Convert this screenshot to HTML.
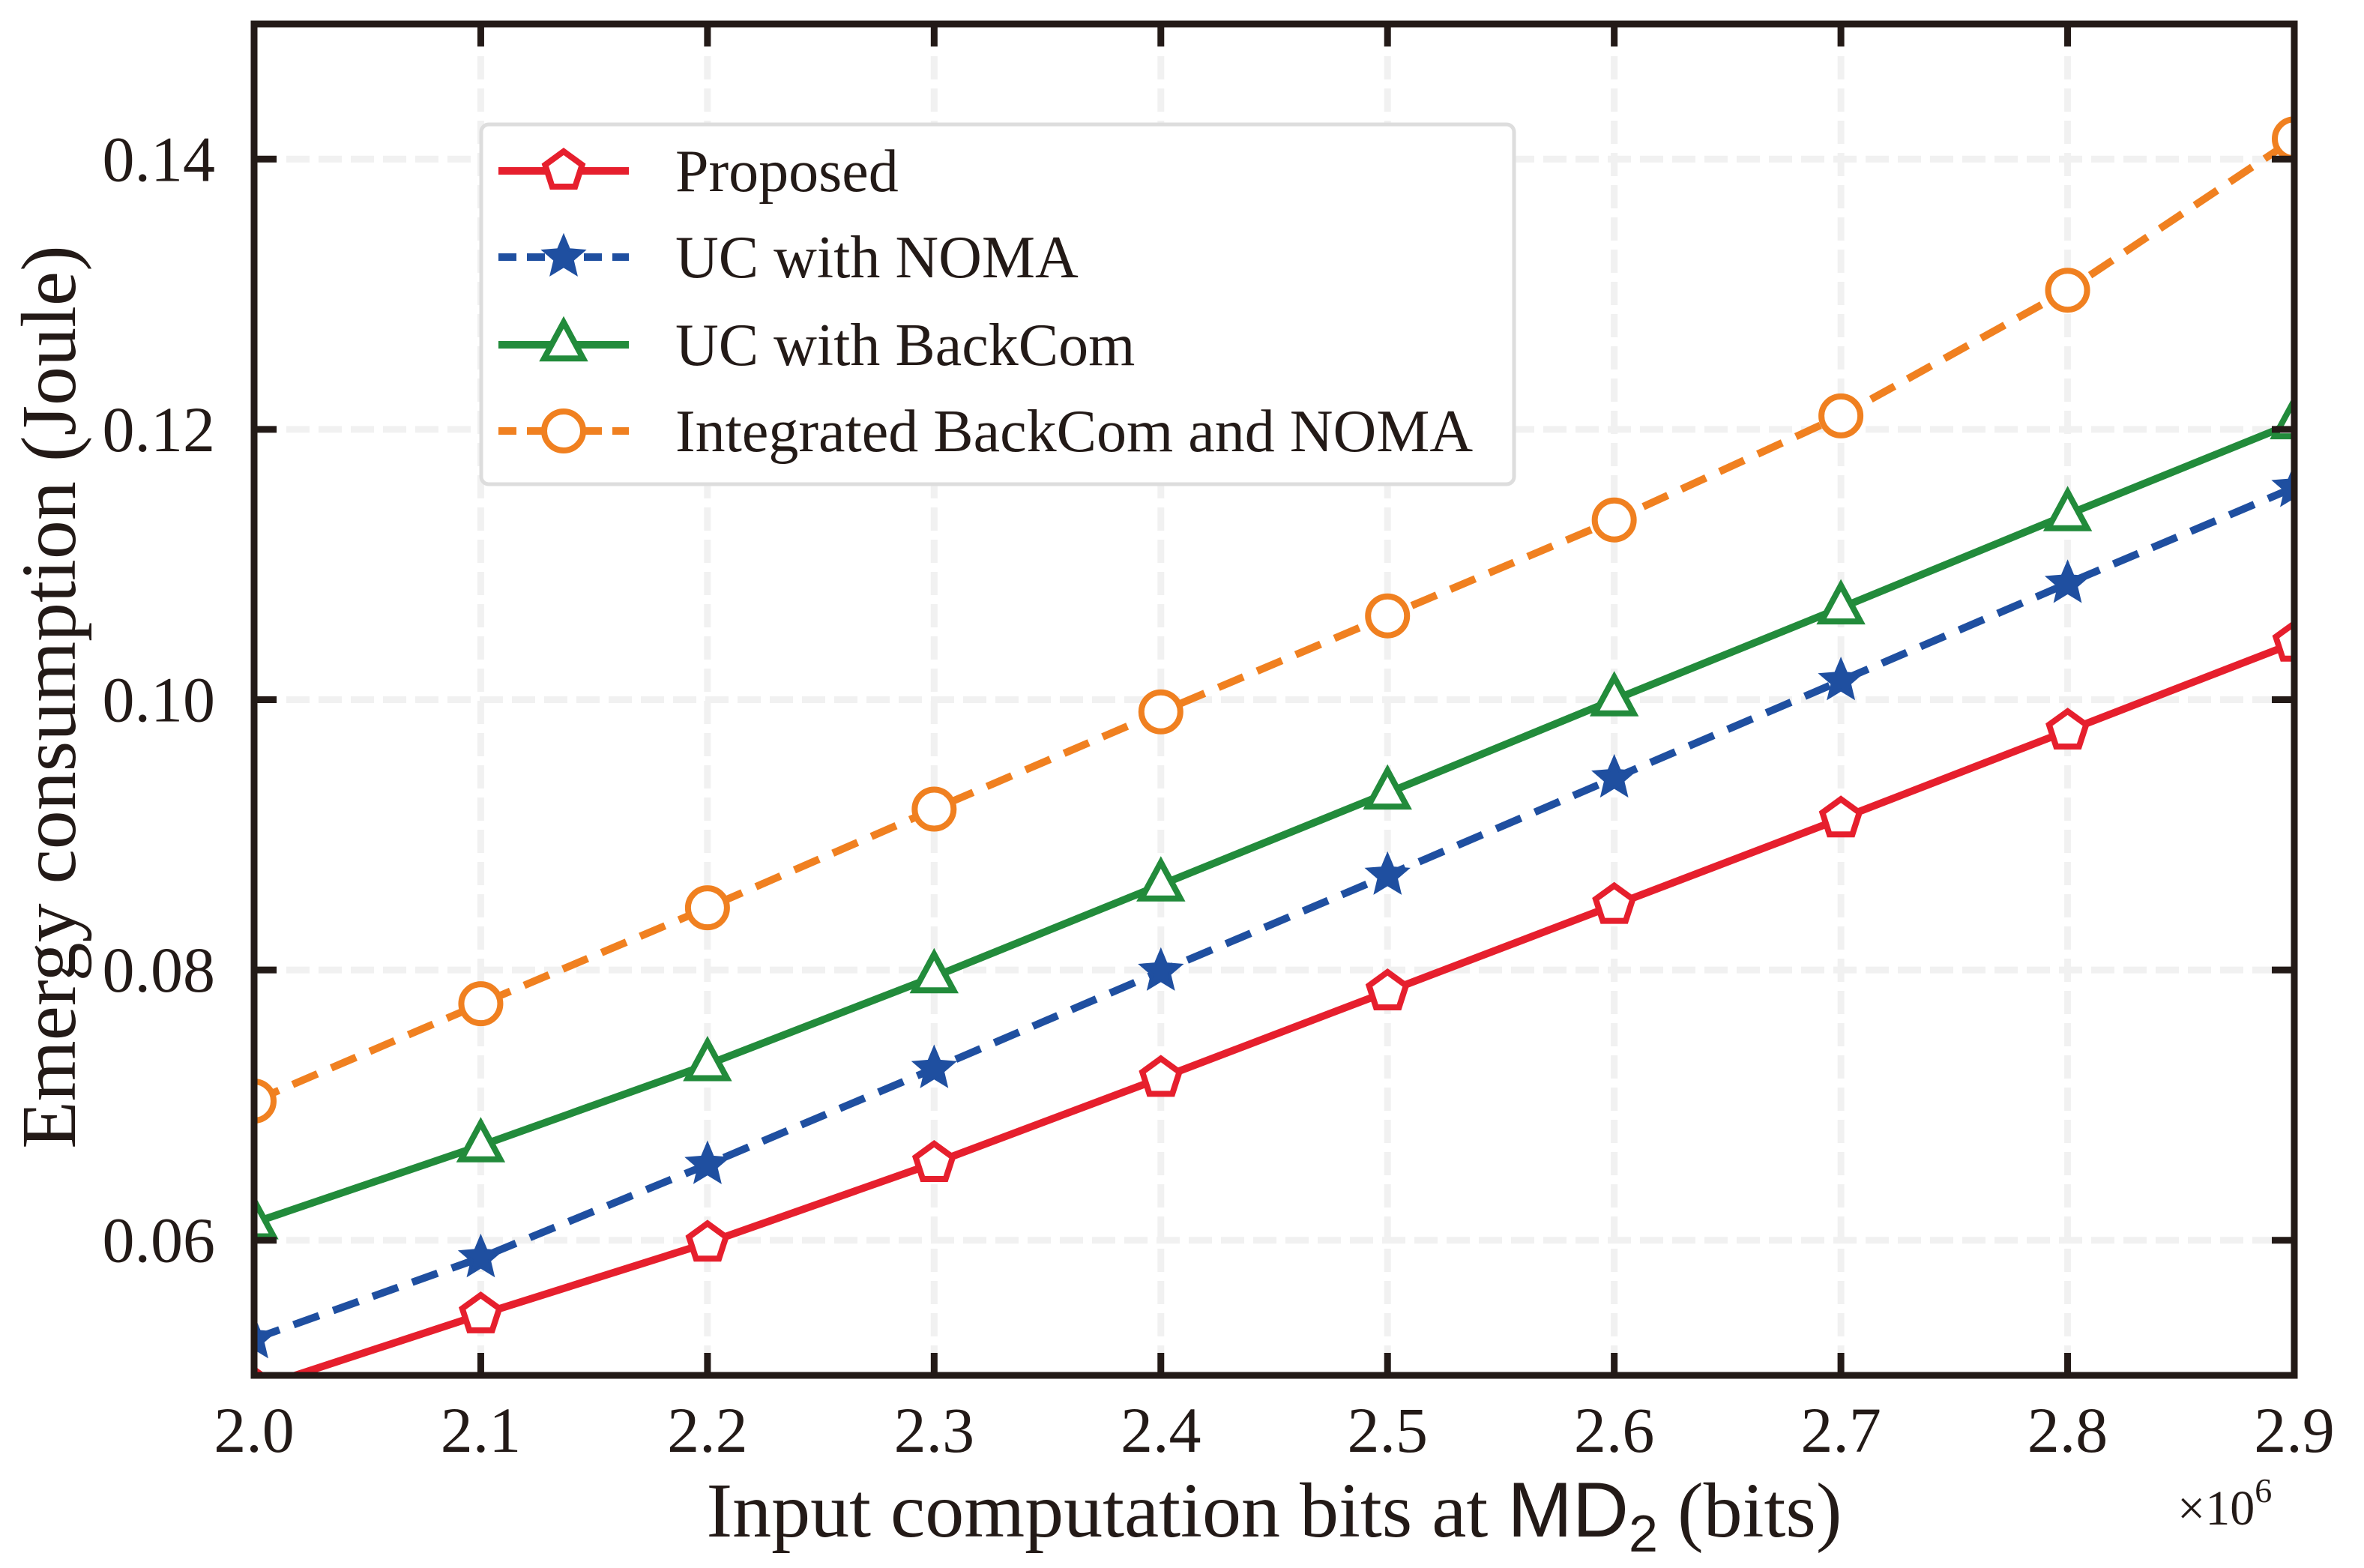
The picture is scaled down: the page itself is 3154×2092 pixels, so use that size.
<!DOCTYPE html>
<html><head><meta charset="utf-8"><style>
html,body{margin:0;padding:0;background:#fff;}
svg{display:block;font-family:"Liberation Serif",serif;}
</style></head><body>
<svg id="chart" width="3154" height="2092" viewBox="0 0 3154 2092" xmlns="http://www.w3.org/2000/svg">
<defs><clipPath id="pc"><rect x="339" y="32" width="2722" height="1803"/></clipPath></defs>
<g id="grid"></g>
<g id="series" clip-path="url(#pc)"></g>
<g id="axes"></g>
<g id="legend"></g>
<text x="1700" y="2050" font-size="104" text-anchor="middle" fill="#231a17">Input computation bits at <tspan font-family="Liberation Sans, sans-serif">MD</tspan><tspan font-family="Liberation Sans, sans-serif" font-size="70" dy="20">2</tspan><tspan dy="-20"> (bits)</tspan></text>
<text x="2905" y="2034" font-size="66" fill="#231a17">×10<tspan font-size="46" dy="-30">6</tspan></text>
<text transform="translate(100,930) rotate(-90)" font-size="104" text-anchor="middle" fill="#231a17">Emergy consumption (Joule)</text>
</svg>
<script>
const xValues = [2.0, 2.1, 2.2, 2.3, 2.4, 2.5, 2.6, 2.7, 2.8, 2.9];
const proposed = [0.0490, 0.0545, 0.0598, 0.0657, 0.0720, 0.0784, 0.0848, 0.0912, 0.0977, 0.1042];
const ucNoma = [0.0527, 0.0587, 0.0656, 0.0727, 0.0799, 0.0870, 0.0942, 0.1014, 0.1086, 0.1157];
const ucBackcom = [0.0613, 0.0670, 0.0730, 0.0795, 0.0863, 0.0931, 0.1000, 0.1068, 0.1137, 0.1205];
const integrated = [0.0703, 0.0775, 0.0846, 0.0919, 0.0991, 0.1062, 0.1133, 0.1210, 0.1303, 0.1415];
const xTicks = [2.0, 2.1, 2.2, 2.3, 2.4, 2.5, 2.6, 2.7, 2.8, 2.9];
const xTickLabels = ["2.0","2.1","2.2","2.3","2.4","2.5","2.6","2.7","2.8","2.9"];
const yTicks = [0.06, 0.08, 0.10, 0.12, 0.14];
const yTickLabels = ["0.06","0.08","0.10","0.12","0.14"];
const seriesNames = ["Proposed","UC with NOMA","UC with BackCom","Integrated BackCom and NOMA"];

const NS="http://www.w3.org/2000/svg";
const L=339,R=3061,T=32,B=1835;
const xMin=2.0,xMax=2.9,yMin=0.05,yMax=0.15;
const sx=v=>L+(v-xMin)/(xMax-xMin)*(R-L);
const sy=v=>B-(v-yMin)/(yMax-yMin)*(B-T);
function mk(tag,attrs,parent){const e=document.createElementNS(NS,tag);for(const k in attrs)e.setAttribute(k,attrs[k]);parent.appendChild(e);return e;}
const grid=document.getElementById('grid'),axes=document.getElementById('axes'),ser=document.getElementById('series'),leg=document.getElementById('legend');
const AX="#231a17";
xTicks.forEach((t,i)=>{
  const x=sx(t);
  if(i>0&&i<xTicks.length-1){const g=mk('line',{x1:x,x2:x,y1:T,y2:B,stroke:'#f1f1f1','stroke-width':9,'stroke-dasharray':'31 12'},grid);
  
  }
  const tk=mk('line',{x1:x,x2:x,y1:B,y2:B-30,stroke:AX,'stroke-width':9},axes);
  
  
  const tk2=mk('line',{x1:x,x2:x,y1:T,y2:T+30,stroke:AX,'stroke-width':9},axes);
  
  
  const lb=mk('text',{x:x,y:1937,'font-size':86,'text-anchor':'middle',fill:AX},axes);
  lb.textContent=xTickLabels[i];
  
  
});
yTicks.forEach((t,i)=>{
  const y=sy(t);
  const g=mk('line',{x1:L,x2:R,y1:y,y2:y,stroke:'#f1f1f1','stroke-width':9,'stroke-dasharray':'31 12'},grid);
  
  
  const tk=mk('line',{x1:L,x2:L+30,y1:y,y2:y,stroke:AX,'stroke-width':9},axes);
  
  
  const tk2=mk('line',{x1:R,x2:R-30,y1:y,y2:y,stroke:AX,'stroke-width':9},axes);
  
  
  const lb=mk('text',{x:287,y:y+29,'font-size':86,'text-anchor':'end',fill:AX},axes);
  lb.textContent=yTickLabels[i];
  
  
});
const frame=mk('rect',{x:L,y:T,width:R-L,height:B-T,fill:'none',stroke:AX,'stroke-width':9},axes);



function marker(type,x,y,color,parent,r){
  let e;
  if(type==='pent'){let p=[];for(let k=0;k<5;k++){const a=-Math.PI/2+k*2*Math.PI/5;p.push((x+r*Math.cos(a)).toFixed(1)+','+(y+r*Math.sin(a)).toFixed(1));}
    e=mk('polygon',{points:p.join(' '),fill:'#fff',stroke:color,'stroke-width':8},parent);}
  else if(type==='star'){let p=[];for(let k=0;k<10;k++){const a=-Math.PI/2+k*Math.PI/5;const rr=k%2?r*0.45:r;p.push((x+rr*Math.cos(a)).toFixed(1)+','+(y+rr*Math.sin(a)).toFixed(1));}
    e=mk('polygon',{points:p.join(' '),fill:color,stroke:color,'stroke-width':4},parent);}
  else if(type==='tri'){const p=[[x,y-r*1.15],[x-r,y+r*0.7],[x+r,y+r*0.7]].map(q=>q[0].toFixed(1)+','+q[1].toFixed(1));
    e=mk('polygon',{points:p.join(' '),fill:'#fff',stroke:color,'stroke-width':8},parent);}
  else {e=mk('circle',{cx:x,cy:y,r:r,fill:'#fff',stroke:color,'stroke-width':8},parent);}
  return e;
}
const defs=[
 {name:'proposed',data:proposed,color:'#e61f2d',dash:'',m:'pent'},
 {name:'uc-noma',data:ucNoma,color:'#1f4fa0',dash:'36 20',m:'star'},
 {name:'uc-backcom',data:ucBackcom,color:'#228b3b',dash:'',m:'tri'},
 {name:'integrated',data:integrated,color:'#f08020',dash:'36 20',m:'circ'}
];
defs.forEach(d=>{
  const g=mk('g',{},ser);
  
  
  const pts=d.data.map((v,i)=>sx(xValues[i]).toFixed(1)+','+sy(v).toFixed(1)).join(' ');
  const pl=mk('polyline',{points:pts,fill:'none',stroke:d.color,'stroke-width':10,'stroke-dasharray':d.dash},g);
  
  
  d.data.forEach((v,i)=>{
    const e=marker(d.m,sx(xValues[i]),sy(v),d.color,g,d.m==='star'?27:26);
    
    
  });
});
// legend
const box=mk('rect',{x:642,y:166,width:1378,height:480,rx:10,fill:'#fff',stroke:'#dddddd','stroke-width':5},leg);


const rows=[228,343,460,575];
defs.forEach((d,i)=>{
  const g=mk('g',{},leg);
  
  
  const y=rows[i];
  mk('line',{x1:665,x2:839,y1:y,y2:y,stroke:d.color,'stroke-width':10,'stroke-dasharray':d.dash?'24 14':''},g);
  marker(d.m,752,y,d.color,g,d.m==='star'?27:26);
  const t=mk('text',{x:901,y:y+27,'font-size':80,fill:AX},g);
  t.textContent=seriesNames[i];
});
</script>
</body></html>
